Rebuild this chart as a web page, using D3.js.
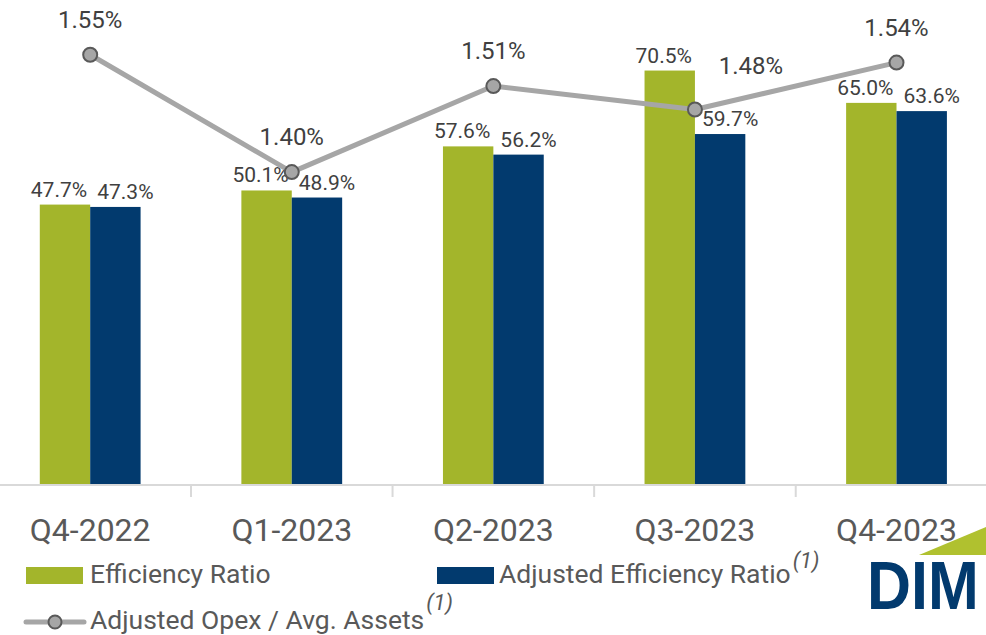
<!DOCTYPE html>
<html>
<head>
<meta charset="utf-8">
<script src="https://cdn.jsdelivr.net/npm/d3@7"></script>
<style>
  body { margin: 0; background: #fff; }
  svg { display: block; font-family: Roboto, "Open Sans", sans-serif; }
</style>
</head>
<body>
<script>
// values
var categories = ["Q4-2022", "Q1-2023", "Q2-2023", "Q3-2023", "Q4-2023"];
var efficiencyRatio = [47.7, 50.1, 57.6, 70.5, 65.0];
var adjEfficiencyRatio = [47.3, 48.9, 56.2, 59.7, 63.6];
var adjOpexAssets = [1.55, 1.40, 1.51, 1.48, 1.54];
var seriesNames = ["Efficiency Ratio", "Adjusted Efficiency Ratio", "Adjusted Opex / Avg. Assets"];

var GREEN = "#A3B52B", BLUE = "#023A6E", GREY = "#A6A6A6";
var W = 986, H = 635, base = 485;

function main() {
  var svg = d3.select("body").append("svg").attr("width", W).attr("height", H);

  var x = d3.scaleBand().domain(categories).range([-10.6, 997.3]).padding(0);
  var x1 = d3.scaleBand().domain(["eff", "adj"]).range([0, x.bandwidth()])
    .paddingInner(0).paddingOuter(1);
  var y = d3.scaleLinear().domain([0, 82.5]).range([base, 0]);
  var y2 = d3.scaleLinear().domain([1.0, 1.62]).range([base, 0]);

  var rows = categories.map(function(c, i) {
    return {cat: c, eff: efficiencyRatio[i], adj: adjEfficiencyRatio[i], opex: adjOpexAssets[i]};
  });

  drawBars(svg, rows, x, x1, y);
  drawAxis(svg, x);
  drawLine(svg, rows, x, y, y2);
  drawLegend(svg);
  drawLogo(svg);
}

function drawBars(svg, rows, x, x1, y) {
  var g = svg.append("g");
  var groups = g.selectAll("g").data(rows).enter().append("g")
    .attr("transform", function(d) { return "translate(" + x(d.cat) + ",0)"; });

  ["eff", "adj"].forEach(function(key) {
    groups.append("rect")
      .attr("x", x1(key))
      .attr("y", function(d) { return y(d[key]); })
      .attr("width", x1.bandwidth())
      .attr("height", function(d) { return base - y(d[key]); })
      .attr("fill", key == "eff" ? GREEN : BLUE);

    groups.append("text")
      .attr("x", x1(key) + x1.bandwidth() / 2 + (key == "eff" ? -6 : 10))
      .attr("y", function(d) { return y(d[key]) - 8; })
      .attr("text-anchor", "middle")
      .attr("font-size", 21)
      .attr("fill", "#404040")
      .text(function(d) { return d[key].toFixed(1) + "%"; });
  });
}

function drawAxis(svg, x) {
  svg.append("line")
    .attr("x1", 0).attr("x2", W).attr("y1", base).attr("y2", base)
    .attr("stroke", "#D9D9D9").attr("stroke-width", 2);

  var ax = svg.append("g")
    .attr("transform", "translate(0," + base + ")")
    .call(d3.axisBottom(x).tickSize(0).tickPadding(0).tickSizeOuter(0));
  ax.select(".domain").remove();
  ax.selectAll("text")
    .attr("y", 56).attr("dy", null)
    .attr("font-size", 32)
    .attr("font-family", "Roboto, sans-serif")
    .attr("fill", "#595959");

  // boundary ticks between categories
  svg.append("g").selectAll("line")
    .data(categories.slice(1)).enter().append("line")
    .attr("x1", function(d) { return x(d); })
    .attr("x2", function(d) { return x(d); })
    .attr("y1", base).attr("y2", base + 12)
    .attr("stroke", "#D9D9D9").attr("stroke-width", 2);
}

function drawLine(svg, rows, x, y, y2) {
  var cx = function(d) { return x(d.cat) + x.bandwidth() / 2; };
  var line = d3.line().x(cx).y(function(d) { return y2(d.opex); });

  svg.append("path").datum(rows)
    .attr("d", line)
    .attr("fill", "none")
    .attr("stroke", GREY)
    .attr("stroke-width", 5)
    .attr("stroke-linejoin", "round");

  svg.append("g").selectAll("circle").data(rows).enter().append("circle")
    .attr("cx", cx)
    .attr("cy", function(d) { return y2(d.opex); })
    .attr("r", 7)
    .attr("fill", GREY)
    .attr("stroke", "#595959")
    .attr("stroke-width", 2);

  // label goes above the point, pushed right if it would hit the tall bar
  svg.append("g").selectAll("text").data(rows).enter().append("text")
    .each(function(d) {
      var by = y2(d.opex) - 27;
      var clash = by > y(d.eff) - 25;
      d3.select(this)
        .attr("x", cx(d) + (clash ? 56 : 0))
        .attr("y", clash ? y2(d.opex) - 36 : by);
    })
    .attr("text-anchor", "middle")
    .attr("font-size", 24)
    .attr("fill", "#404040")
    .text(function(d) { return d.opex.toFixed(2) + "%"; });
}

function drawLegend(svg) {
  var g = svg.append("g").attr("fill", "#595959").attr("font-size", 26.5);

  g.append("rect").attr("x", 26).attr("y", 567).attr("width", 57).attr("height", 17).attr("fill", GREEN);
  g.append("text").attr("x", 90).attr("y", 583).text(seriesNames[0]);

  g.append("rect").attr("x", 437).attr("y", 567).attr("width", 57).attr("height", 17).attr("fill", BLUE);
  var t2 = g.append("text").attr("x", 499).attr("y", 583);
  t2.append("tspan").text(seriesNames[1]);
  t2.append("tspan").attr("dy", -15).attr("dx", 2).attr("font-size", 22)
    .attr("font-style", "italic").text("(1)");

  g.append("line").attr("x1", 26).attr("x2", 84).attr("y1", 622).attr("y2", 622)
    .attr("stroke", GREY).attr("stroke-width", 5).attr("stroke-linecap", "round");
  g.append("circle").attr("cx", 55).attr("cy", 622).attr("r", 6.5)
    .attr("fill", GREY).attr("stroke", "#595959").attr("stroke-width", 2);
  var t3 = g.append("text").attr("x", 90).attr("y", 629);
  t3.append("tspan").text(seriesNames[2]);
  t3.append("tspan").attr("dy", -19).attr("dx", 2).attr("font-size", 22)
    .attr("font-style", "italic").text("(1)");
}

function drawLogo(svg) {
  svg.append("polygon")
    .attr("points", "919,555 986,527 986,555")
    .attr("fill", "#B0C12F");
  svg.append("text")
    .attr("transform", "translate(867,609) scale(1,1.12)")
    .attr("font-family", "'Liberation Sans', sans-serif")
    .attr("font-weight", "bold")
    .attr("font-size", 61)
    .attr("fill", BLUE)
    .text("DIM");
}

main();
</script>
</body>
</html>
